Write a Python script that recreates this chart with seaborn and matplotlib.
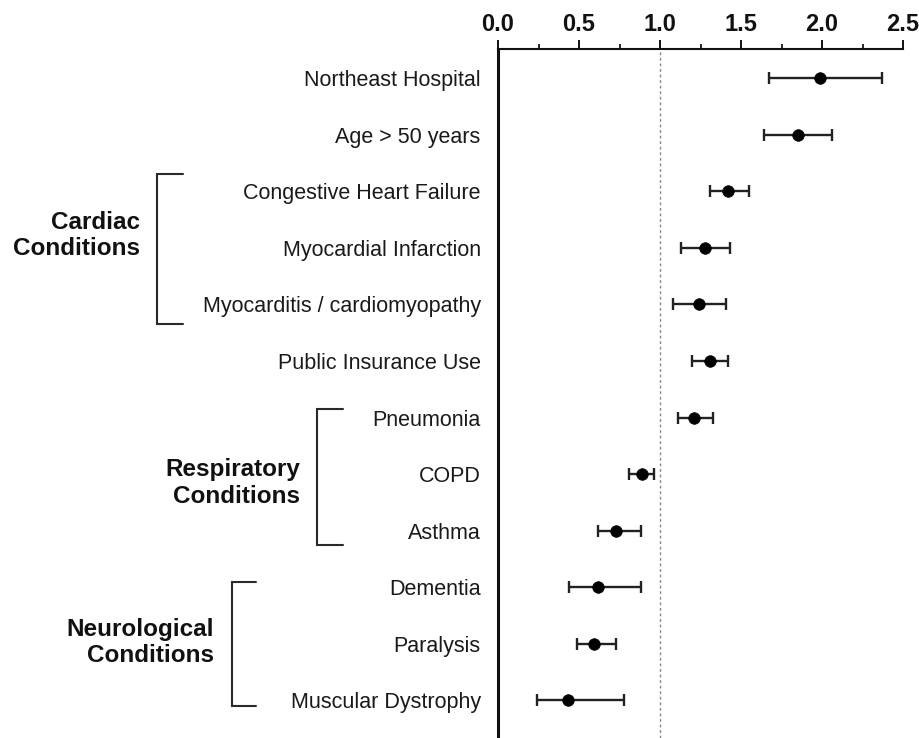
import numpy as np
import pandas as pd
import matplotlib
matplotlib.use('Agg')
import matplotlib.pyplot as plt
import matplotlib.transforms as mtransforms
from matplotlib.ticker import MultipleLocator
import seaborn as sns

# Data (odds ratio with 95% CI)
labels = ['Northeast Hospital', 'Age > 50 years', 'Congestive Heart Failure',
          'Myocardial Infarction', 'Myocarditis / cardiomyopathy',
          'Public Insurance Use', 'Pneumonia', 'COPD', 'Asthma',
          'Dementia', 'Paralysis', 'Muscular Dystrophy']
odds = [1.99, 1.85, 1.42, 1.28, 1.24, 1.31, 1.21, 0.89, 0.73, 0.62, 0.59, 0.43]
lower = [1.67, 1.645, 1.31, 1.13, 1.08, 1.20, 1.11, 0.81, 0.62, 0.44, 0.485, 0.24]
upper = [2.37, 2.06, 1.55, 1.43, 1.41, 1.42, 1.33, 0.96, 0.88, 0.88, 0.73, 0.78]

group_names = ['Cardiac\nConditions', 'Respiratory\nConditions', 'Neurological\nConditions']

df = pd.DataFrame({'label': labels, 'odds': odds, 'lower': lower, 'upper': upper})
df['pos'] = np.arange(len(df))

sns.set_style('white')
plt.rcParams['font.family'] = ['Liberation Sans', 'DejaVu Sans']

fig = plt.figure(figsize=(9.2, 7.38), dpi=100)
ax = fig.add_axes([498 / 920, 0.0, 405 / 920, 1 - 49 / 738])

# reference line at OR = 1
ax.axvline(1.0, color='#888888', linestyle=(0, (2, 2)), linewidth=1.0, zorder=1)

# confidence intervals
ax.errorbar(df['odds'], df['pos'],
            xerr=[df['odds'] - df['lower'], df['upper'] - df['odds']],
            fmt='none', ecolor='#222222', elinewidth=1.7, capsize=4, capthick=1.7, zorder=2)

sns.scatterplot(data=df, x='odds', y='pos', ax=ax, color='black', marker='o',
                s=70, edgecolor='black', linewidth=0.5, zorder=3, legend=False)

ax.set_xlim(0, 2.5)
ax.set_ylim(11.67, -0.52)
ax.set_xlabel('')
ax.set_ylabel('')

# top axis with bold ticks
ax.xaxis.tick_top()
ax.xaxis.set_major_locator(MultipleLocator(0.5))
ax.xaxis.set_minor_locator(MultipleLocator(0.25))
ax.set_xticklabels([f'{v:.1f}' for v in ax.get_xticks()])
ax.tick_params(axis='x', which='major', top=True, bottom=False, direction='out',
               length=6.5, width=1.4, pad=3, labelsize=17, colors='#111111')
ax.tick_params(axis='x', which='minor', top=True, bottom=False, direction='out',
               length=3.5, width=1.4)
for t in ax.get_xticklabels():
    t.set_fontweight('bold')

ax.set_yticks(df['pos'])
ax.set_yticklabels(df['label'])
ax.tick_params(axis='y', left=False, pad=9, labelsize=15.5, labelcolor='#1a1a1a')

for side in ['right', 'bottom']:
    ax.spines[side].set_visible(False)
ax.spines['top'].set_linewidth(1.5)
ax.spines['left'].set_linewidth(2.2)
ax.spines['top'].set_color('#111111')
ax.spines['left'].set_color('#111111')

# group brackets: (vertical x px, arm end x px, top row, bottom row, label right px, label row)
brackets = [
    (157, 183, 1.70, 4.34, 140, 2.78),
    (317, 343, 5.85, 8.26, 300, 7.16),
    (232, 256, 8.91, 11.10, 214, 9.98),
]
trans = mtransforms.blended_transform_factory(fig.transFigure, ax.transData)
for name, (xv, xa, y0, y1, xl, yl) in zip(group_names, brackets):
    xv_f, xa_f = xv / 920, xa / 920
    ax.plot([xa_f, xv_f, xv_f, xa_f], [y0, y0, y1, y1], transform=trans,
            color='#2a2a2a', linewidth=1.5, clip_on=False, solid_joinstyle='miter')
    ax.text(xl / 920, yl, name, transform=trans, ha='right', va='center',
            fontsize=17.5, fontweight='bold', color='#111111', linespacing=1.2)

fig.savefig('out.png', dpi=100)
